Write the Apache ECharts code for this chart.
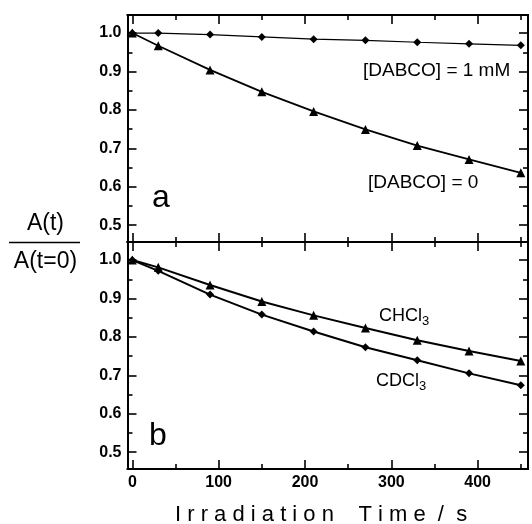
<!DOCTYPE html>
<html>
<head>
<meta charset="utf-8">
<script src="https://cdn.jsdelivr.net/npm/echarts@6/dist/echarts.min.js"></script>
<style>html,body{margin:0;padding:0;background:#fff;}#c{width:532px;height:524px;}</style>
</head>
<body>
<div id="c"></div>
<script>
// ---- data ----
const time = [0, 30, 90, 150, 210, 270, 330, 390, 450];
const dabco1mM = [1.000, 1.000, 0.996, 0.990, 0.984, 0.981, 0.976, 0.972, 0.968];
const dabco0 = [1.000, 0.967, 0.904, 0.847, 0.796, 0.749, 0.707, 0.671, 0.636];
const chcl3 = [1.000, 0.981, 0.935, 0.892, 0.856, 0.823, 0.791, 0.763, 0.737];
const cdcl3 = [1.000, 0.972, 0.910, 0.858, 0.814, 0.773, 0.739, 0.705, 0.674];
const xTicksMajor = [0, 100, 200, 300, 400];
const xTicksMinor = [50, 150, 250, 350, 450];
const yTicksMajor = [0.5, 0.6, 0.7, 0.8, 0.9, 1.0];
const yTicksMinor = [0.55, 0.65, 0.75, 0.85, 0.95];
const xTitle = 'I r r a d i a t i o n    T i m e  /  s';
const yTitleTop = 'A(t)';
const yTitleBottom = 'A(t=0)';

// ---- layout ----
const X_MIN = -5.6, X_MAX = 458.3;
const Y_MIN = 0.456, Y_MAX = 1.047;
const MAJ = 9, MIN = 5;
const labelFont = {fontFamily: 'Liberation Sans', fontWeight: 'bold', fontSize: 16, color: '#000'};

function xAx(grid, pos, vals, len, labels) {
  return {
    type: 'value', gridIndex: grid, position: pos, min: X_MIN, max: X_MAX,
    axisLine: {show: true, onZero: false, lineStyle: {color: '#000', width: 2}},
    axisTick: {show: true, inside: true, length: len, customValues: vals, lineStyle: {color: '#000', width: 1.6}},
    axisLabel: Object.assign({show: labels, customValues: vals, margin: 6}, labelFont),
    splitLine: {show: false}
  };
}
function yAx(grid, pos, vals, len, labels) {
  return {
    type: 'value', gridIndex: grid, position: pos, min: Y_MIN, max: Y_MAX,
    axisLine: {show: true, onZero: false, lineStyle: {color: '#000', width: 2}},
    axisTick: {show: true, inside: true, length: len, customValues: vals, lineStyle: {color: '#000', width: 1.6}},
    axisLabel: Object.assign({show: labels, customValues: vals, margin: 6, formatter: v => v.toFixed(1)}, labelFont),
    splitLine: {show: false}
  };
}

const xAxes = [], yAxes = [];
[0, 1].forEach(g => {
  xAxes.push(xAx(g, 'bottom', xTicksMajor, MAJ, g === 1));
  xAxes.push(xAx(g, 'bottom', xTicksMinor, MIN, false));
  xAxes.push(xAx(g, 'top', xTicksMajor, MAJ, false));
  xAxes.push(xAx(g, 'top', xTicksMinor, MIN, false));
  yAxes.push(yAx(g, 'left', yTicksMajor, MAJ, true));
  yAxes.push(yAx(g, 'left', yTicksMinor, MIN, false));
  yAxes.push(yAx(g, 'right', yTicksMajor, MAJ, false));
  yAxes.push(yAx(g, 'right', yTicksMinor, MIN, false));
});

function pairs(xs, ys) { return xs.map((x, i) => [x, ys[i]]); }
function ser(name, g, ys, symbol, size, lw) {
  return {
    name: name, type: 'line', xAxisIndex: g * 4, yAxisIndex: g * 4,
    data: pairs(time, ys), symbol: symbol, symbolSize: size, showAllSymbol: true,
    lineStyle: {color: '#000', width: lw}, itemStyle: {color: '#000'},
    animation: false, z: 5
  };
}

const chart = echarts.init(document.getElementById('c'), null, {renderer: 'canvas'});
chart.setOption({
  animation: false,
  backgroundColor: '#fff',
  grid: [
    {left: 127.5, right: 4, top: 15, height: 227},
    {left: 127.5, right: 4, top: 242, height: 227}
  ],
  xAxis: xAxes,
  yAxis: yAxes,
  series: [
    ser('[DABCO] = 1 mM', 0, dabco1mM, 'diamond', 8, 1.2),
    ser('[DABCO] = 0', 0, dabco0, 'triangle', 9, 1.8),
    ser('CHCl3', 1, chcl3, 'triangle', 9, 2),
    ser('CDCl3', 1, cdcl3, 'diamond', 8, 2)
  ],
  graphic: [
    {type: 'text', x: 363, y: 71, style: {text: '[DABCO] = 1 mM', font: '19px "Liberation Sans"', fill: '#000', textAlign: 'left', textVerticalAlign: 'middle'}},
    {type: 'text', x: 368, y: 183, style: {text: '[DABCO] = 0', font: '19px "Liberation Sans"', fill: '#000', textAlign: 'left', textVerticalAlign: 'middle'}},
    {type: 'text', x: 152, y: 198.5, style: {text: 'a', font: '32px "Liberation Sans"', fill: '#000', textAlign: 'left', textVerticalAlign: 'middle'}},
    {type: 'text', x: 149, y: 436, style: {text: 'b', font: '32px "Liberation Sans"', fill: '#000', textAlign: 'left', textVerticalAlign: 'middle'}},
    {type: 'text', x: 379, y: 317.5, style: {text: '{n|CHCl}{s|3}', fill: '#000', textAlign: 'left', textVerticalAlign: 'middle',
      rich: {n: {fontFamily: 'Liberation Sans', fontSize: 18, fill: '#000', color: '#000', padding: [0, 0, 3, 0]}, s: {fontFamily: 'Liberation Sans', fontSize: 13, color: '#000', fill: '#000', verticalAlign: 'bottom'}}}},
    {type: 'text', x: 376, y: 382.5, style: {text: '{n|CDCl}{s|3}', fill: '#000', textAlign: 'left', textVerticalAlign: 'middle',
      rich: {n: {fontFamily: 'Liberation Sans', fontSize: 18, fill: '#000', color: '#000', padding: [0, 0, 3, 0]}, s: {fontFamily: 'Liberation Sans', fontSize: 13, color: '#000', fill: '#000', verticalAlign: 'bottom'}}}},
    {type: 'text', x: 45.5, y: 224, style: {text: yTitleTop, font: '23px "Liberation Sans"', fill: '#000', textAlign: 'center', textVerticalAlign: 'middle'}},
    {type: 'line', shape: {x1: 9, y1: 242.5, x2: 80, y2: 242.5}, style: {stroke: '#000', lineWidth: 1.5}},
    {type: 'text', x: 45.5, y: 262, style: {text: yTitleBottom, font: '23px "Liberation Sans"', fill: '#000', textAlign: 'center', textVerticalAlign: 'middle'}},
    {type: 'text', x: 175, y: 515, style: {text: xTitle, font: '22px "Liberation Sans"', fill: '#000', textAlign: 'left', textVerticalAlign: 'middle'}}
  ]
});
</script>
</body>
</html>
